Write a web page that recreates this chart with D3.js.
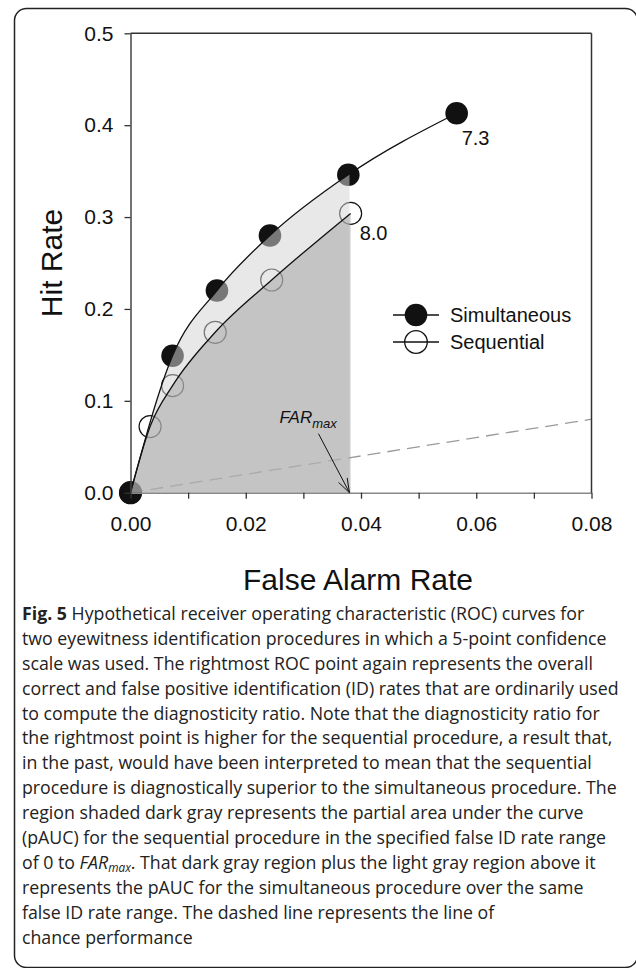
<!DOCTYPE html>
<html>
<head>
<meta charset="utf-8">
<script src="https://cdn.jsdelivr.net/npm/d3@7"></script>
<style>
  body { margin: 0; background: #fff; }
  svg text { font-family: "Liberation Sans", Arial, sans-serif; }
  svg g.caption text { font-family: "Open Sans", "Noto Sans", sans-serif; }
</style>
</head>
<body>
<div id="chart"></div>
<script>
// ROC points
const simFar = [0, 0.0073, 0.0150, 0.0242, 0.0378, 0.0566];
const simHit = [0, 0.149, 0.220, 0.280, 0.346, 0.413];
const seqFar = [0, 0.0034, 0.0073, 0.0147, 0.0245, 0.0382];
const seqHit = [0, 0.072, 0.1165, 0.1746, 0.2315, 0.304];
const seriesNames = ["Simultaneous", "Sequential"];
const diagLabels = ["7.3", "8.0"];
const farMax = 0.038;
const xTicks = [0, 0.01, 0.02, 0.03, 0.04, 0.05, 0.06, 0.07, 0.08];
const yTicks = [0, 0.1, 0.2, 0.3, 0.4, 0.5];
const captionLines = [
  "two eyewitness identification procedures in which a 5-point confidence",
  "scale was used. The rightmost ROC point again represents the overall",
  "correct and false positive identification (ID) rates that are ordinarily used",
  "to compute the diagnosticity ratio. Note that the diagnosticity ratio for",
  "the rightmost point is higher for the sequential procedure, a result that,",
  "in the past, would have been interpreted to mean that the sequential",
  "procedure is diagnostically superior to the simultaneous procedure. The",
  "region shaded dark gray represents the partial area under the curve",
  "(pAUC) for the sequential procedure in the specified false ID rate range",
  null,
  "represents the pAUC for the simultaneous procedure over the same",
  "false ID rate range. The dashed line represents the line of",
  "chance performance"
];

const W = 636, H = 968;
const svg = d3.select("#chart").append("svg")
    .attr("width", W).attr("height", H);

// outer rounded frame (right edge sits just past the page)
svg.append("rect")
    .attr("x", 14.5).attr("y", 8.5)
    .attr("width", 623).attr("height", 959)
    .attr("rx", 12)
    .attr("fill", "none").attr("stroke", "#222").attr("stroke-width", 1.5);

const plot = {left: 130.5, right: 591.5, top: 33.3, bottom: 492.7};
const x = d3.scaleLinear().domain([0, 0.08]).range([plot.left, plot.right]);
const y = d3.scaleLinear().domain([0, 0.5]).range([plot.bottom, plot.top]);

const sim = simFar.map((d, i) => [d, simHit[i]]);
const seq = seqFar.map((d, i) => [d, seqHit[i]]);

// chance line
svg.append("line")
    .attr("x1", x(0)).attr("y1", y(0))
    .attr("x2", x(0.08)).attr("y2", y(0.08))
    .attr("stroke", "#9a9a9a").attr("stroke-width", 1.3)
    .attr("stroke-dasharray", "13,7");

// points
svg.selectAll(".simPt").data(sim).enter().append("circle")
    .attr("cx", d => x(d[0])).attr("cy", d => y(d[1]))
    .attr("r", 11.3).attr("fill", "#111");
svg.selectAll(".seqPt").data(seq).enter().append("circle")
    .attr("cx", d => x(d[0])).attr("cy", d => y(d[1]))
    .attr("r", 11).attr("fill", "none")
    .attr("stroke", "#111").attr("stroke-width", 1.2);

// shaded pAUC regions
const curve = d3.curveMonotoneX;
svg.append("clipPath").attr("id", "farclip")
  .append("rect")
    .attr("x", x(0)).attr("y", y(0.5))
    .attr("width", x(farMax) - x(0)).attr("height", y(0) - y(0.5));

const area = d3.area().x(d => x(d[0])).y0(y(0)).y1(d => y(d[1])).curve(curve);
svg.append("path")
    .attr("d", area(sim))
    .attr("clip-path", "url(#farclip)")
    .attr("fill", "#d3d3d3").attr("fill-opacity", 0.53);
svg.append("path")
    .attr("d", area(seq))
    .attr("fill", "#989898").attr("fill-opacity", 0.45);

// ROC curves
const line = d3.line().x(d => x(d[0])).y(d => y(d[1])).curve(curve);
[sim, seq].forEach(s => {
  svg.append("path").attr("d", line(s))
      .attr("fill", "none").attr("stroke", "#111").attr("stroke-width", 1.3);
});

// axes
const yAxis = d3.axisLeft(y).tickValues(yTicks)
    .tickFormat(d3.format(".1f")).tickSize(6).tickSizeOuter(0).tickPadding(11);
const gy = svg.append("g").attr("transform", `translate(${plot.left},0)`).call(yAxis);
gy.select(".domain").attr("stroke", "#444").attr("stroke-width", 1.5);
gy.selectAll(".tick line").attr("stroke", "#333").attr("stroke-width", 1.3);
gy.selectAll(".tick text").attr("font-size", 21).attr("fill", "#111");

const xAxis = d3.axisBottom(x).tickValues(xTicks)
    .tickFormat(d => Math.round(d * 100) % 2 === 0 ? d3.format(".2f")(d) : "")
    .tickSize(6).tickSizeOuter(0).tickPadding(17);
const gx = svg.append("g").attr("transform", `translate(0,${plot.bottom})`).call(xAxis);
gx.select(".domain").attr("stroke", "#888").attr("stroke-width", 1.5);
gx.selectAll(".tick line").attr("stroke", "#333").attr("stroke-width", 1.3);
gx.selectAll(".tick text").attr("font-size", 21).attr("fill", "#111");

// box top and right
svg.append("line").attr("x1", plot.left).attr("x2", plot.right)
    .attr("y1", plot.top).attr("y2", plot.top)
    .attr("stroke", "#333").attr("stroke-width", 1.5);
svg.append("line").attr("x1", plot.right).attr("x2", plot.right)
    .attr("y1", plot.top).attr("y2", plot.bottom)
    .attr("stroke", "#333").attr("stroke-width", 1.5);

// axis titles
svg.append("text")
    .attr("transform", `translate(62,${(plot.top + plot.bottom) / 2}) rotate(-90)`)
    .attr("text-anchor", "middle").attr("font-size", 30).attr("fill", "#111")
    .text("Hit Rate");
svg.append("text")
    .attr("x", (plot.left + plot.right) / 2 - 3).attr("y", 590)
    .attr("text-anchor", "middle").attr("font-size", 30).attr("fill", "#111")
    .text("False Alarm Rate");

// diagnosticity ratio labels
const lastSim = sim[sim.length - 1], lastSeq = seq[seq.length - 1];
svg.append("text").attr("x", x(lastSim[0]) + 5).attr("y", y(lastSim[1]) + 32)
    .attr("font-size", 20).attr("fill", "#111").text(diagLabels[0]);
svg.append("text").attr("x", x(lastSeq[0]) + 9).attr("y", y(lastSeq[1]) + 27)
    .attr("font-size", 20).attr("fill", "#111").text(diagLabels[1]);

// FARmax annotation
const fx = x(farMax), fy = y(0);
const farText = svg.append("text").attr("x", fx - 70).attr("y", fy - 70)
    .attr("font-size", 17).attr("font-style", "italic").attr("fill", "#111");
farText.append("tspan").text("FAR");
farText.append("tspan").attr("font-size", 13).attr("dy", 5).text("max");
const ax0 = fx - 31, ay0 = fy - 59;
svg.append("line").attr("x1", ax0).attr("y1", ay0).attr("x2", fx).attr("y2", fy)
    .attr("stroke", "#111").attr("stroke-width", 1);
const ang = Math.atan2(fy - ay0, fx - ax0);
[-0.33, 0.33].forEach(da => {
  svg.append("line").attr("x1", fx).attr("y1", fy)
      .attr("x2", fx - 15 * Math.cos(ang + da)).attr("y2", fy - 15 * Math.sin(ang + da))
      .attr("stroke", "#111").attr("stroke-width", 1);
});

// legend
const leg = svg.append("g").attr("transform", "translate(416,315)");
seriesNames.forEach((name, i) => {
  const g = leg.append("g").attr("transform", `translate(0,${i * 27})`);
  g.append("line").attr("x1", -23).attr("x2", 23)
      .attr("stroke", "#111").attr("stroke-width", 1.3);
  g.append("circle").attr("r", 11.3)
      .attr("fill", i === 0 ? "#111" : "none")
      .attr("stroke", "#111").attr("stroke-width", i === 0 ? 0 : 1.3);
  g.append("text").attr("x", 34).attr("y", 7)
      .attr("font-size", 20).attr("fill", "#111").text(name);
});

// caption
const cap = svg.append("g").attr("class", "caption");
const lh = 24.9, base = 620;
const first = cap.append("text").attr("x", 0).attr("y", base)
    .attr("font-size", 18).attr("fill", "#222");
first.append("tspan").attr("font-weight", "bold").text("Fig. 5");
first.append("tspan").text(" Hypothetical receiver operating characteristic (ROC) curves for");
captionLines.forEach((t, i) => {
  const txt = cap.append("text").attr("x", 0).attr("y", base + (i + 1) * lh)
      .attr("font-size", 18).attr("fill", "#222");
  if (t === null) {
    txt.append("tspan").text("of 0 to ");
    txt.append("tspan").attr("font-style", "italic").text("FAR");
    txt.append("tspan").attr("font-style", "italic").attr("font-size", 12).attr("dy", 3).text("max");
    txt.append("tspan").attr("dy", -3).text(". That dark gray region plus the light gray region above it");
  } else {
    txt.text(t);
  }
});
// fit the caption width to the printed column (longest line spans ~22..619)
const longest = cap.selectAll("text").filter((d, i) => i === 3).node().getComputedTextLength();
const k = 597 / longest;
cap.attr("transform", `translate(22,0) scale(${k},1)`);
</script>
</body>
</html>
